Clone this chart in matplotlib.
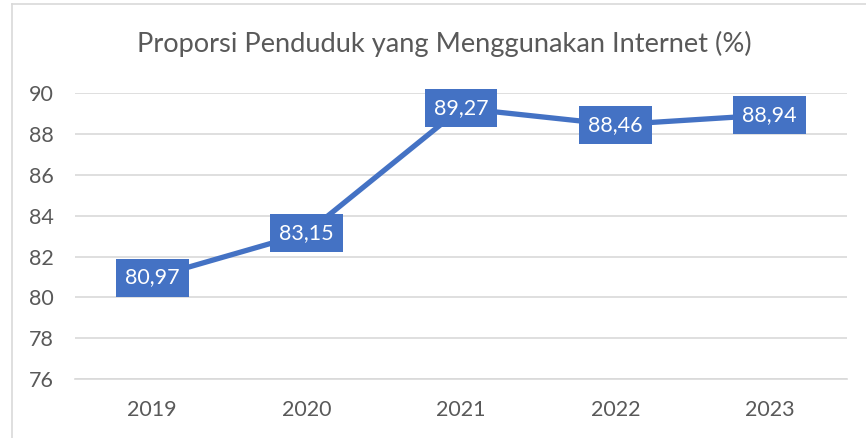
import matplotlib
matplotlib.use("Agg")
import matplotlib.pyplot as plt
from matplotlib.lines import Line2D

# Data
years = ["2019", "2020", "2021", "2022", "2023"]
values = [80.97, 83.15, 89.27, 88.46, 88.94]
y_ticks = [76, 78, 80, 82, 84, 86, 88, 90]

blue = "#4472C4"
grey_text = "#595959"
grid_col = "#D9D9D9"

plt.rcParams["font.family"] = ["Lato", "DejaVu Sans"]

fig = plt.figure(figsize=(8.66, 4.38), dpi=100)
ax = fig.add_axes([75 / 866, 1 - 379 / 438, (847 - 75) / 866, (379 - 93.3) / 438])

x = list(range(len(years)))
ax.plot(x, values, color=blue, linewidth=3.8, solid_capstyle="round", zorder=3)

for xi, v in zip(x, values):
    label = f"{v:.2f}".replace(".", ",")
    ax.text(xi, v, label, ha="center", va="center", color="white", fontsize=15.5,
            zorder=4,
            bbox=dict(boxstyle="square,pad=0.42", facecolor=blue, edgecolor="none"))

ax.set_xlim(-0.5, len(years) - 0.5)
ax.set_ylim(76, 90)
ax.set_yticks(y_ticks)
ax.set_xticks(x)
ax.set_xticklabels(years)
ax.grid(axis="y", color=grid_col, linewidth=1.2)
ax.set_axisbelow(True)
for s in ["top", "right", "left"]:
    ax.spines[s].set_visible(False)
ax.spines["bottom"].set_color(grid_col)
ax.spines["bottom"].set_linewidth(1.2)
ax.tick_params(axis="both", length=0, labelsize=15.5, colors=grey_text)
ax.tick_params(axis="y", pad=15)
ax.tick_params(axis="x", pad=15)

fig.text(444 / 866, 1 - 44 / 438, "Proporsi Penduduk yang Menggunakan Internet (%)",
         ha="center", va="center", fontsize=19.6, color=grey_text)

# chart border (only left and top visible in the crop)
fig.add_artist(Line2D([11.5 / 866, 11.5 / 866], [-0.1, 1 - 4 / 438],
                      transform=fig.transFigure, color=grid_col, linewidth=1.2))
fig.add_artist(Line2D([11.5 / 866, 1.1], [1 - 4 / 438, 1 - 4 / 438],
                      transform=fig.transFigure, color=grid_col, linewidth=1.2))

fig.savefig("out.png", dpi=100)
